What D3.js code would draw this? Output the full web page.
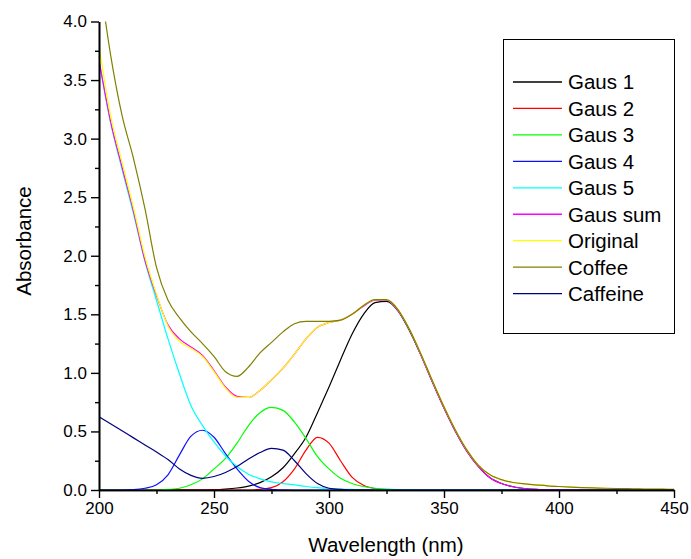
<!DOCTYPE html>
<html>
<head>
<meta charset="utf-8">
<script src="https://cdn.jsdelivr.net/npm/d3@7"></script>
<style>
  html, body { margin: 0; padding: 0; background: #fff; }
  text { font-family: "Liberation Sans", Arial, sans-serif; fill: #000; }
</style>
</head>
<body>
<svg id="chart" width="691" height="559"></svg>
<script>
// Wavelength grid (nm)
const wavelength = [200,205,210,215,220,225,230,235,240,245,250,255,260,265,270,275,280,285,290,295,300,305,310,315,320,325,330,335,340,345,350,355,360,365,370,375,380,385,390,395,400,405,410,415,420,425,430,435,440,445,450];

// Fitted Gaussian components and spectra (absorbance)
const gaus1 = [0,0,0,0,0,0,0.001,0.001,0.001,0.002,0.003,0.008,0.017,0.033,0.063,0.113,0.19,0.31,0.45,0.66,0.88,1.11,1.33,1.50,1.60,1.61,1.53,1.36,1.15,0.92,0.70,0.50,0.33,0.20,0.105,0.055,0.028,0.013,0.006,0.003,0.001,0,0,0,0,0,0,0,0,0,0];
const gaus2 = [0,0,0,0,0,0,0,0,0,0,0,0,0,0,0.005,0.02,0.07,0.18,0.34,0.45,0.40,0.25,0.11,0.04,0.012,0.003,0,0,0,0,0,0,0,0,0,0,0,0,0,0,0,0,0,0,0,0,0,0,0,0,0];
const gaus3 = [0,0,0,0,0,0,0.005,0.015,0.045,0.095,0.18,0.27,0.40,0.55,0.66,0.705,0.68,0.58,0.44,0.285,0.18,0.10,0.055,0.03,0.015,0.007,0.003,0.001,0,0,0,0,0,0,0,0,0,0,0,0,0,0,0,0,0,0,0,0,0,0,0];
const gaus4 = [0,0,0,0.003,0.015,0.045,0.13,0.30,0.46,0.51,0.45,0.31,0.18,0.075,0.02,0.005,0.001,0,0,0,0,0,0,0,0,0,0,0,0,0,0,0,0,0,0,0,0,0,0,0,0,0,0,0,0,0,0,0,0,0,0];
const gaus5 = [3.67,3.14,2.74,2.36,1.95,1.62,1.29,0.99,0.72,0.55,0.41,0.29,0.20,0.135,0.095,0.07,0.055,0.043,0.03,0.02,0.013,0.008,0.005,0.003,0.002,0.001,0,0,0,0,0,0,0,0,0,0,0,0,0,0,0,0,0,0,0,0,0,0,0,0,0];
const gausSum = [3.67,3.15,2.76,2.38,1.96,1.66,1.41,1.29,1.22,1.15,1.02,0.88,0.80,0.79,0.85,0.94,1.04,1.16,1.29,1.39,1.43,1.45,1.50,1.57,1.62,1.62,1.53,1.37,1.15,0.92,0.70,0.50,0.33,0.20,0.105,0.055,0.028,0.013,0.006,0.003,0.001,0,0,0,0,0,0,0,0,0,0];
const original = [3.79,3.20,2.80,2.41,1.99,1.67,1.40,1.27,1.21,1.14,1.01,0.87,0.79,0.79,0.85,0.94,1.04,1.16,1.29,1.39,1.43,1.45,1.50,1.575,1.625,1.625,1.54,1.37,1.16,0.93,0.71,0.51,0.34,0.21,0.13,0.088,0.064,0.052,0.044,0.036,0.03,0.025,0.021,0.018,0.015,0.013,0.011,0.009,0.008,0.007,0.006];
const coffee = [4.40,3.72,3.20,2.83,2.40,1.90,1.62,1.47,1.35,1.25,1.14,1.01,0.97,1.05,1.17,1.26,1.35,1.42,1.44,1.44,1.44,1.45,1.50,1.575,1.625,1.625,1.54,1.37,1.16,0.93,0.71,0.51,0.34,0.21,0.13,0.088,0.064,0.052,0.044,0.036,0.03,0.025,0.021,0.018,0.015,0.013,0.011,0.009,0.008,0.007,0.006];
const caffeine = [0.625,0.565,0.505,0.445,0.385,0.325,0.26,0.18,0.125,0.10,0.115,0.15,0.20,0.265,0.32,0.355,0.34,0.25,0.14,0.055,0.015,0.005,0.002,0.001,0,0,0,0,0,0,0,0,0,0,0,0,0,0,0,0,0,0,0,0,0,0,0,0,0,0,0];

const seriesNames = ["Gaus 1","Gaus 2","Gaus 3","Gaus 4","Gaus 5","Gaus sum","Original","Coffee","Caffeine"];
const seriesValues = [gaus1, gaus2, gaus3, gaus4, gaus5, gausSum, original, coffee, caffeine];
const seriesColors = ["#000000","#ff0000","#00ff00","#1010ff","#00ffff","#ff00ff","#ffff00","#808000","#000080"];

const xTicks = [200,250,300,350,400,450];
const yTicks = [0,0.5,1.0,1.5,2.0,2.5,3.0,3.5,4.0];

const svg = d3.select("#chart");
const plotLeft = 99, plotRight = 674, plotTop = 21.5, plotBottom = 490;

const x = d3.scaleLinear().domain([200, 450]).range([plotLeft, plotRight]);
const y = d3.scaleLinear().domain([0, 4]).range([plotBottom, plotTop]);

svg.append("clipPath").attr("id", "plotClip")
  .append("rect").attr("x", plotLeft).attr("y", plotTop)
  .attr("width", plotRight - plotLeft).attr("height", plotBottom - plotTop);

// Spectra
const line = d3.line().curve(d3.curveMonotoneX).x(d => x(d[0])).y(d => y(d[1]));
const plot = svg.append("g").attr("clip-path", "url(#plotClip)");
seriesValues.forEach((vals, i) => {
  plot.append("path")
    .datum(wavelength.map((w, j) => [w, vals[j]]))
    .attr("fill", "none")
    .attr("stroke", seriesColors[i])
    .attr("stroke-width", 1.2)
    .attr("stroke-linejoin", "round")
    .attr("d", line);
});

// Axes: major and minor ticks pointing outward
const xMinor = d3.axisBottom(x).tickValues(d3.range(225, 450, 50)).tickSize(4).tickFormat("").tickSizeOuter(0);
const yMinor = d3.axisLeft(y).tickValues(d3.range(0.25, 4, 0.5)).tickSize(4).tickFormat("").tickSizeOuter(0);
const xAxis = d3.axisBottom(x).tickValues(xTicks).tickSize(8).tickPadding(4).tickSizeOuter(0).tickFormat(d3.format("d"));
const yAxis = d3.axisLeft(y).tickValues(yTicks).tickSize(8).tickPadding(4).tickSizeOuter(0).tickFormat(d3.format(".1f"));

function styleAxis(g) {
  g.select(".domain").attr("stroke", "#000").attr("stroke-width", 1.6);
  g.selectAll(".tick line").attr("stroke", "#000").attr("stroke-width", 1.4);
  g.selectAll(".tick text").style("font-family", "'Liberation Sans', Arial, sans-serif").style("font-size", "17px").attr("fill", "#000");
}

svg.append("g").attr("transform", `translate(0,${plotBottom})`).call(xMinor).call(styleAxis);
svg.append("g").attr("transform", `translate(${plotLeft},0)`).call(yMinor).call(styleAxis);
svg.append("g").attr("transform", `translate(0,${plotBottom})`).call(xAxis).call(styleAxis);
svg.append("g").attr("transform", `translate(${plotLeft},0)`).call(yAxis).call(styleAxis);

// Axis titles
svg.append("text")
  .attr("x", 386).attr("y", 552)
  .attr("text-anchor", "middle")
  .style("font-size", "20.5px")
  .text("Wavelength (nm)");
svg.append("text")
  .attr("transform", "translate(31,241) rotate(-90)")
  .attr("text-anchor", "middle")
  .style("font-size", "20.5px")
  .text("Absorbance");

// Legend
const legend = svg.append("g");
legend.append("rect")
  .attr("x", 503.5).attr("y", 39.5).attr("width", 171).attr("height", 294)
  .attr("fill", "#fff").attr("stroke", "#000").attr("stroke-width", 1);
seriesNames.forEach((name, i) => {
  const ly = 82 + i * 26.45;
  legend.append("line")
    .attr("x1", 513).attr("x2", 562).attr("y1", ly).attr("y2", ly)
    .attr("stroke", seriesColors[i]).attr("stroke-width", 1.3);
  legend.append("text")
    .attr("x", 568).attr("y", ly)
    .attr("dy", "0.36em")
    .style("font-size", "20.5px")
    .text(name);
});
</script>
</body>
</html>
